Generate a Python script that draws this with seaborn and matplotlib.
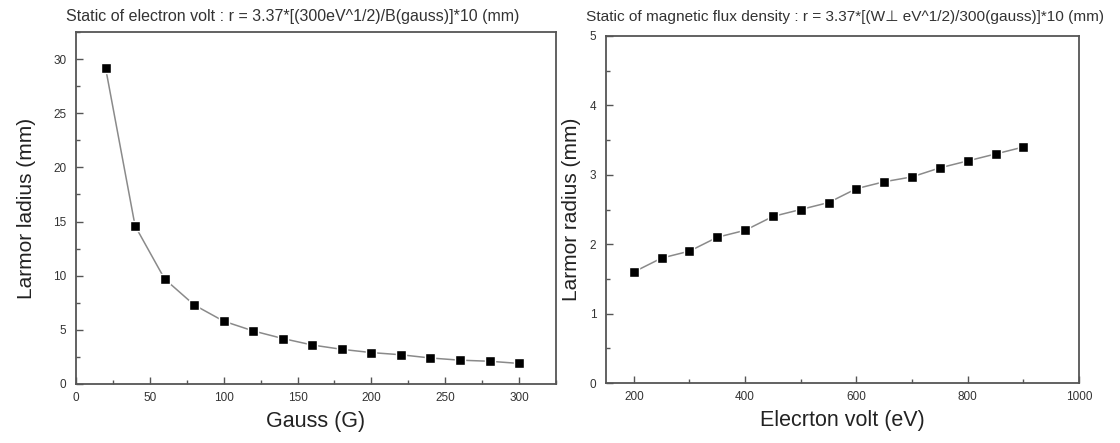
import matplotlib
matplotlib.use("Agg")
import matplotlib.pyplot as plt
import seaborn as sns
import pandas as pd
from matplotlib.ticker import MultipleLocator

gauss = [20, 40, 60, 80, 100, 120, 140, 160, 180, 200, 220, 240, 260, 280, 300]
radius_gauss = [29.2, 14.6, 9.7, 7.3, 5.8, 4.9, 4.2, 3.6, 3.2, 2.9, 2.7, 2.4, 2.2, 2.1, 1.9]

ev = [200, 250, 300, 350, 400, 450, 500, 550, 600, 650, 700, 750, 800, 850, 900]
radius_ev = [1.6, 1.8, 1.9, 2.1, 2.2, 2.4, 2.5, 2.6, 2.8, 2.9, 2.97, 3.1, 3.2, 3.3, 3.4]

title_left = "Static of electron volt : r = 3.37*[(300eV^1/2)/B(gauss)]*10 (mm)"
title_right = "Static of magnetic flux density : r = 3.37*[(W\u22a5 eV^1/2)/300(gauss)]*10 (mm)"

sns.set_style("ticks")
plt.rcParams['font.family'] = ['Liberation Sans', 'DejaVu Sans']

fig = plt.figure(figsize=(11.2, 4.43), dpi=100)
ax1 = fig.add_axes([76/1120, 59/443, 480/1120, 352/443])
ax2 = fig.add_axes([606/1120, 60/443, 473/1120, 347/443])

df1 = pd.DataFrame({"x": gauss, "y": radius_gauss})
df2 = pd.DataFrame({"x": ev, "y": radius_ev})

for ax, df in ((ax1, df1), (ax2, df2)):
    sns.lineplot(data=df, x="x", y="y", ax=ax, color="#8a8a8a", linewidth=1.1,
                 marker="s", markersize=6.5, markerfacecolor="black",
                 markeredgecolor="white", markeredgewidth=1.0)

ax1.set_xlim(0, 325)
ax1.set_ylim(0, 32.5)
ax1.xaxis.set_major_locator(MultipleLocator(50))
ax1.xaxis.set_minor_locator(MultipleLocator(25))
ax1.yaxis.set_major_locator(MultipleLocator(5))
ax1.yaxis.set_minor_locator(MultipleLocator(2.5))
ax1.set_xlabel("Gauss (G)", fontsize=15.5, color="#222222", labelpad=5)
ax1.set_ylabel("Larmor ladius (mm)", fontsize=15, color="#222222", labelpad=12)

ax2.set_xlim(150, 1000)
ax2.set_ylim(0, 5)
ax2.xaxis.set_major_locator(MultipleLocator(200))
ax2.xaxis.set_minor_locator(MultipleLocator(100))
ax2.yaxis.set_major_locator(MultipleLocator(1))
ax2.yaxis.set_minor_locator(MultipleLocator(0.5))
ax2.set_xlabel("Elecrton volt (eV)", fontsize=15.5, color="#222222", labelpad=5)
ax2.set_ylabel("Larmor radius (mm)", fontsize=15, color="#222222", labelpad=6)

for ax in (ax1, ax2):
    for s in ax.spines.values():
        s.set_visible(True)
        s.set_color("#555555")
        s.set_linewidth(1.3)
    ax.tick_params(which="both", direction="in", colors="#555555", labelcolor="#333333",
                   labelsize=8.5)
    ax.tick_params(which="major", length=5, width=1)
    ax.tick_params(which="minor", length=3, width=1)
    ax.tick_params(axis="x", pad=6)
    ax.tick_params(axis="y", pad=7)

fig.text(66/1120, 1 - 17/443, title_left, fontsize=11.5, color="#333333", va="center", ha="left")
fig.text(586/1120, 1 - 17/443, title_right, fontsize=11.1, color="#333333", va="center", ha="left")

fig.savefig("out.png", dpi=100, facecolor="white")
